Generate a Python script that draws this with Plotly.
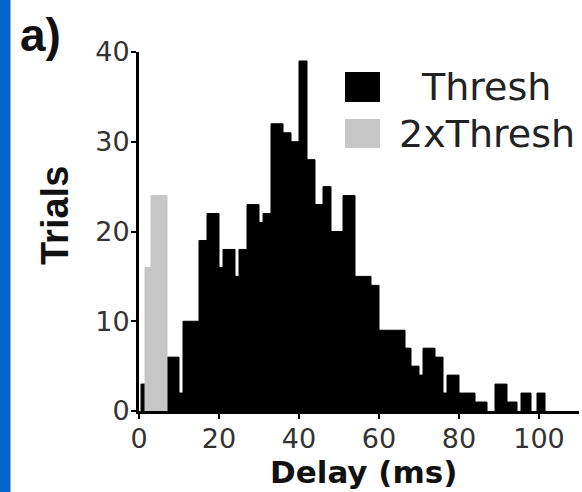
import plotly.graph_objects as go

# ---- data (ms bin edges and trial counts) ----
thresh_left  = [0.5, 7, 10, 11, 15, 17, 20, 21, 24, 25, 27, 30, 31, 33, 36, 38, 40, 42, 44, 46,
                48, 51, 54, 58, 60, 66.5, 68, 70, 71, 74, 76, 77, 80, 84, 89, 92, 95.5, 99.5]
thresh_right = [1.5, 10, 11, 15, 17, 20, 21, 24, 25, 27, 30, 31, 33, 36, 38, 40, 42, 44, 46, 48,
                51, 54, 58, 60, 66.5, 68, 70, 71, 74, 76, 77, 80, 84, 87, 92, 94.5, 98, 101.5]
thresh_counts = [3, 6, 2, 10, 19, 22, 16, 18, 15, 18, 23, 21, 22, 32, 31, 30, 39, 28, 23, 25,
                 20, 24, 15, 14, 9, 7, 5, 4, 7, 6, 2, 4, 2, 1, 3, 1, 2, 2]

x2_left   = [1.5, 3]
x2_right  = [3, 7]
x2_counts = [16, 24]

x_ticks = [0, 20, 40, 60, 80, 100]
y_ticks = [0, 10, 20, 30, 40]

FONT = "Liberation Sans, Arial, Helvetica, sans-serif"
WIDE = "DejaVu Sans, sans-serif"

fig = go.Figure()
fig.add_trace(go.Bar(
    name="Thresh", x=thresh_left, y=thresh_counts,
    width=[r - l for l, r in zip(thresh_left, thresh_right)], offset=0,
    marker=dict(color="black", line=dict(color="black", width=1)),
    showlegend=False))
fig.add_trace(go.Bar(
    name="2xThresh", x=x2_left, y=x2_counts,
    width=[r - l for l, r in zip(x2_left, x2_right)], offset=0,
    marker=dict(color="#c6c6c6", line=dict(color="#c6c6c6", width=1)),
    showlegend=False))

W, H = 582, 492
L, R, T, B = 139, 3, 52, 81
pw, ph = W - L - R, H - T - B

def px(x):
    return (x - L) / pw

def py(y):
    return (H - B - y) / ph

axis_common = dict(ticks="outside", ticklen=5, tickwidth=2, tickcolor="black",
                   showline=True, linewidth=3, linecolor="black",
                   showgrid=False, zeroline=False,
                   tickfont=dict(family=WIDE, size=27, color="#333"))

fig.update_layout(
    width=W, height=H,
    margin=dict(l=L, r=R, t=T, b=B, autoexpand=False),
    paper_bgcolor="white", plot_bgcolor="white",
    barmode="overlay",
    font=dict(family=FONT, color="#222"),
    xaxis=dict(range=[0, 110], tickvals=x_ticks, ticklabelstandoff=-3, **axis_common),
    yaxis=dict(range=[0, 40], tickvals=y_ticks, ticklabelstandoff=-4, **axis_common),
    shapes=[
        dict(type="rect", xref="paper", yref="paper", x0=px(0), x1=px(10.5), y0=py(H), y1=py(0),
             fillcolor="#0566cc", line=dict(width=0), layer="above"),
        dict(type="rect", xref="paper", yref="paper", x0=px(345), x1=px(380), y0=py(102), y1=py(72),
             fillcolor="black", line=dict(width=0)),
        dict(type="rect", xref="paper", yref="paper", x0=px(345), x1=px(380), y0=py(148), y1=py(119),
             fillcolor="#c6c6c6", line=dict(width=0)),
    ],
    annotations=[
        dict(text="<b>Delay (ms)</b>", xref="paper", yref="paper", x=px(363), y=py(472),
             showarrow=False, xanchor="center", yanchor="middle",
             font=dict(family=WIDE, size=31, color="#111")),
        dict(text="<b>Trials</b>", xref="paper", yref="paper", x=px(55), y=py(216), textangle=-90,
             showarrow=False, xanchor="center", yanchor="middle", font=dict(size=38, color="#111")),
        dict(text="<b>a)</b>", xref="paper", yref="paper", x=px(40), y=py(35),
             showarrow=False, xanchor="center", yanchor="middle", font=dict(size=46, color="#111")),
        dict(text="Thresh", xref="paper", yref="paper", x=px(486), y=py(87),
             showarrow=False, xanchor="center", yanchor="middle",
             font=dict(family=WIDE, size=38, color="#222")),
        dict(text="2xThresh", xref="paper", yref="paper", x=px(487), y=py(134),
             showarrow=False, xanchor="center", yanchor="middle",
             font=dict(family=WIDE, size=38, color="#222")),
    ],
)

fig.write_html("out.html", config={"displayModeBar": False},
               post_script="document.body.style.margin='0px';")
